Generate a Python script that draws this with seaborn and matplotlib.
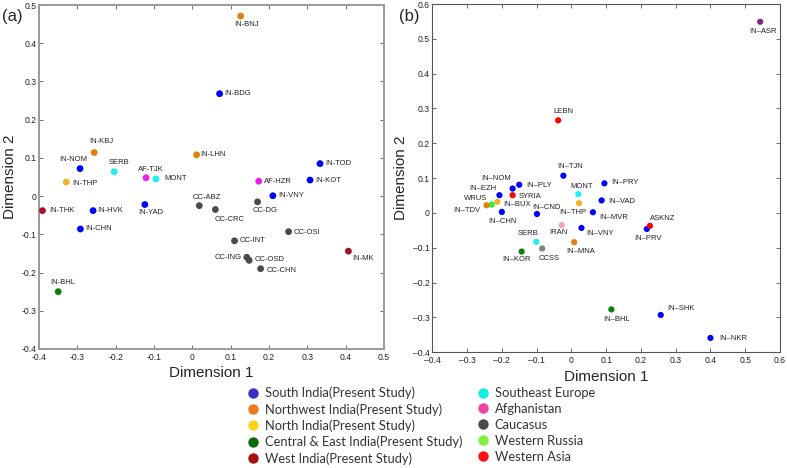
import pandas as pd
import seaborn as sns
import matplotlib.pyplot as plt
from matplotlib.lines import Line2D
from matplotlib.ticker import FuncFormatter

# data: panel (a)
a_names = ["IN-KBJ", "IN-NOM", "IN-THP", "SERB", "AF-TJK", "MONT", "IN-LHN", "IN-BNJ",
           "IN-BDG", "IN-TOD", "IN-KOT", "AF-HZR", "IN-VNY", "CC-ABZ", "CC-CRC", "CC-DG",
           "CC-OSI", "CC-INT", "CC-ING", "CC-OSD", "CC-CHN", "IN-MK", "IN-BHL", "IN-THK",
           "IN-HVK", "IN-CHN", "IN-YAD"]
a_dim1 = [-0.256, -0.293, -0.329, -0.204, -0.121, -0.095, 0.011, 0.126,
          0.071, 0.333, 0.307, 0.173, 0.210, 0.018, 0.060, 0.170,
          0.251, 0.110, 0.142, 0.148, 0.178, 0.407, -0.350, -0.391,
          -0.259, -0.292, -0.124]
a_dim2 = [0.114, 0.072, 0.037, 0.064, 0.048, 0.045, 0.108, 0.471,
          0.268, 0.085, 0.042, 0.039, 0.001, -0.025, -0.035, -0.015,
          -0.093, -0.117, -0.160, -0.168, -0.190, -0.144, -0.250, -0.038,
          -0.038, -0.086, -0.022]
a_group = ["NW", "S", "N", "SEE", "AF", "SEE", "NW", "NW",
           "S", "S", "S", "AF", "S", "CC", "CC", "CC",
           "CC", "CC", "CC", "CC", "CC", "W", "CE", "W",
           "S", "S", "S"]

# data: panel (b)
b_names = ["IN-ASR", "LEBN", "IN-TJN", "IN-PRY", "MONT", "IN-PLY", "IN-NOM", "SYRIA",
           "IN-EZH", "WRUS", "IN-TDV", "IN-BUX", "IN-CHN", "IN-CND", "IN-THP", "IN-VAD",
           "IN-MVR", "IN-VNY", "IN-MNA", "CCSS", "IRAN", "SERB", "IN-KOR", "IN-PRV",
           "ASKNZ", "IN-BHL", "IN-SHK", "IN-NKR"]
b_dim1 = [0.543, -0.038, -0.023, 0.095, 0.020, -0.150, -0.169, -0.169,
          -0.207, -0.229, -0.244, -0.213, -0.200, -0.099, 0.022, 0.087,
          0.062, 0.029, 0.008, -0.084, -0.028, -0.101, -0.143, 0.217,
          0.226, 0.115, 0.257, 0.400]
b_dim2 = [0.549, 0.266, 0.107, 0.085, 0.054, 0.081, 0.070, 0.051,
          0.051, 0.024, 0.022, 0.032, 0.003, -0.003, 0.028, 0.036,
          0.002, -0.043, -0.084, -0.102, -0.035, -0.083, -0.111, -0.046,
          -0.037, -0.277, -0.293, -0.359]
b_group = ["ASR", "WA", "S", "S", "SEE", "S", "S", "WA",
           "S", "WR", "NW", "N", "S", "S", "N", "S",
           "S", "S", "NW", "CCSS", "IRAN", "SEE", "CE", "S",
           "WA", "CE", "S", "S"]

legend_labels = ["South India(Present Study)", "Northwest India(Present Study)",
                 "North India(Present Study)", "Central & East India(Present Study)",
                 "West India(Present Study)", "Southeast Europe", "Afghanistan",
                 "Caucasus", "Western Russia", "Western Asia"]
legend_colors = ["#3b2fc2", "#f07a1e", "#ffd21a", "#0b6b0b", "#a50e0e",
                 "#14efe2", "#f044a4", "#4a4a4a", "#7df040", "#ff1010"]

palette = {"S": "#0000ff", "NW": "#e0800f", "N": "#f2b22a", "CE": "#0a800a",
           "W": "#a3122a", "SEE": "#1cf0f0", "AF": "#f01cf0", "CC": "#4a4a4a",
           "WR": "#33ee33", "WA": "#ff0000", "ASR": "#7d2a8a", "IRAN": "#f4a0c8",
           "CCSS": "#808080"}

# label placement (dx, dy in pixels, ha)
a_off = {"IN-KBJ": (7, 11, "center"), "IN-NOM": (-7, 9, "center"), "IN-THP": (6, -2, "left"),
         "SERB": (5, 9, "center"), "AF-TJK": (5, 8, "center"), "MONT": (8, 0, "left"),
         "IN-LHN": (4, 0, "left"), "IN-BNJ": (6, -8, "center"), "IN-BDG": (5, 0, "left"),
         "IN-TOD": (5, 0, "left"), "IN-KOT": (5, 0, "left"), "AF-HZR": (5, 0, "left"),
         "IN-VNY": (5, 0, "left"), "CC-ABZ": (8, 8, "center"), "CC-CRC": (14, -10, "center"),
         "CC-DG": (8, -9, "center"), "CC-OSI": (5, -1, "left"), "CC-INT": (5, 0, "left"),
         "CC-ING": (-5, 0, "right"), "CC-OSD": (6, 1, "left"), "CC-CHN": (6, -2, "left"),
         "IN-MK": (15, -7, "center"), "IN-BHL": (5, 9, "center"), "IN-THK": (7, 0, "left"),
         "IN-HVK": (4, 0, "left"), "IN-CHN": (5, 0, "left"), "IN-YAD": (6, -8, "center")}
b_off = {"IN-ASR": (3, -10, "center"), "LEBN": (5, 9, "center"), "IN-TJN": (7, 9, "center"),
         "IN-PRY": (7, 1, "left"), "MONT": (3, 8, "center"), "IN-PLY": (7, -1, "left"),
         "IN-NOM": (-16, 10, "center"), "SYRIA": (6, -1, "left"), "IN-EZH": (-17, 7, "center"),
         "WRUS": (-16, 6, "center"), "IN-TDV": (-6, -5, "right"), "IN-BUX": (6, -3, "left"),
         "IN-CHN": (1, -10, "center"), "IN-CND": (9, 6, "center"), "IN-THP": (-6, -9, "center"),
         "IN-VAD": (7, -1, "left"), "IN-MVR": (6, -5, "left"), "IN-VNY": (5, -6, "left"),
         "IN-MNA": (7, -9, "center"), "CCSS": (7, -10, "center"), "IRAN": (-3, -7, "center"),
         "SERB": (-8, 8, "center"), "IN-KOR": (-5, -8, "center"), "IN-PRV": (1, -10, "center"),
         "ASKNZ": (13, 7, "center"), "IN-BHL": (5, -10, "center"), "IN-SHK": (20, 6, "center"),
         "IN-NKR": (9, -1, "left")}

sns.set_style("ticks")
plt.rcParams["font.family"] = ["Liberation Sans", "DejaVu Sans"]

fig = plt.figure(figsize=(7.87, 4.68), dpi=100)
ax1 = fig.add_axes([0.0496, 0.2543, 0.4384, 0.735])
ax2 = fig.add_axes([0.5493, 0.2474, 0.4418, 0.744])

df_a = pd.DataFrame({"name": a_names, "d1": a_dim1, "d2": a_dim2, "group": a_group})
df_b = pd.DataFrame({"name": b_names, "d1": b_dim1, "d2": b_dim2, "group": b_group})


def panel(ax, df, offs, size, lim_x, lim_y, minus, spine_col, spine_lw):
    sns.scatterplot(data=df, x="d1", y="d2", hue="group", palette=palette, s=size,
                    edgecolor="none", legend=False, ax=ax, zorder=3)
    for _, r in df.iterrows():
        dx, dy, ha = offs[r["name"]]
        ax.annotate(r["name"].replace("-", minus), (r["d1"], r["d2"]), xytext=(dx, dy),
                    textcoords="offset pixels", ha=ha, va="center", fontsize=5.5,
                    color="#222222", zorder=4)
    ax.set_xlim(*lim_x)
    ax.set_ylim(*lim_y)
    ax.set_xticks([round(v * 0.1, 1) for v in range(int(lim_x[0] * 10), int(lim_x[1] * 10) + 1)])
    ax.set_yticks([round(v * 0.1, 1) for v in range(int(lim_y[0] * 10), int(lim_y[1] * 10) + 1)])
    fmt = FuncFormatter(lambda v, p: "0" if abs(v) < 1e-9 else f"{v:g}".replace("-", minus))
    ax.xaxis.set_major_formatter(fmt)
    ax.yaxis.set_major_formatter(fmt)
    ax.tick_params(direction="in", top=True, right=True, labelsize=6.2, length=3,
                   width=0.6, pad=1.5, colors="#555555", labelcolor="#222222")
    ax.tick_params(axis="x", pad=3)
    ax.tick_params(axis="y", pad=2)
    for sp in ax.spines.values():
        sp.set_color(spine_col)
        sp.set_linewidth(spine_lw)
    ax.set_xlabel("Dimension 1", fontsize=11, labelpad=3)
    ax.set_ylabel("Dimension 2", fontsize=11, labelpad=3)


panel(ax1, df_a, a_off, 24, (-0.4, 0.5), (-0.4, 0.5), "-", "#9a9a9a", 1.4)
panel(ax2, df_b, b_off, 20, (-0.4, 0.6), (-0.4, 0.6), "\u2013", "#555555", 0.8)

fig.text(0.002, 0.965, "(a)", fontsize=12, va="center")
fig.text(0.507, 0.965, "(b)", fontsize=12, va="center")

handles = [Line2D([], [], marker="o", ls="none", markersize=7.5, color=c, markeredgewidth=0)
           for c in legend_colors]
fig.legend(handles, legend_labels, ncol=2, loc="upper left", bbox_to_anchor=(0.3136, 0.174),
           frameon=False, labelspacing=0.3, handletextpad=0.4,
           columnspacing=1.1, handlelength=1.0, borderpad=0, borderaxespad=0,
           prop={"family": ["Lato", "DejaVu Sans"], "size": 9.3})
for t in fig.legends[0].get_texts():
    t.set_color("#333333")

fig.savefig("out.png", dpi=100)
